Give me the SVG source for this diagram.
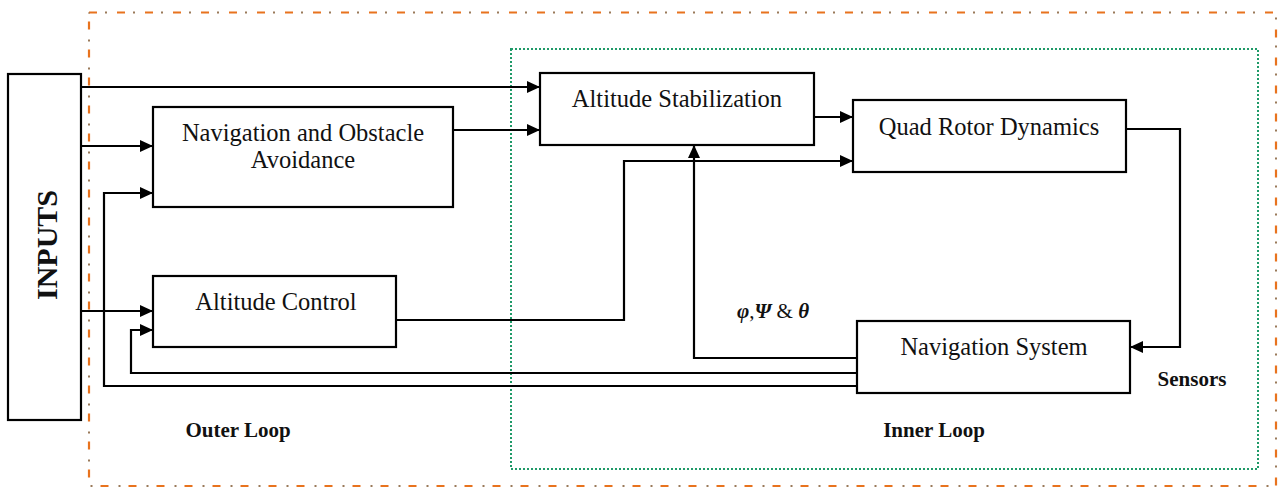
<svg xmlns="http://www.w3.org/2000/svg" width="1282" height="489" viewBox="0 0 1282 489">
<style>
.box{fill:#fff;stroke:#000;stroke-width:2.2}
.t{font-family:"Liberation Serif","Times New Roman",serif;font-size:24.5px;fill:#111;text-anchor:middle}
.b{font-family:"Liberation Serif","Times New Roman",serif;font-size:21px;font-weight:bold;fill:#111}
.c{fill:none;stroke:#000;stroke-width:2.2}
</style>
<defs>
<marker id="ah" markerUnits="userSpaceOnUse" markerWidth="13" markerHeight="12" refX="13" refY="6" orient="auto">
<path d="M0,0 L13,6 L0,12 z" fill="#000"/>
</marker>
</defs>
<rect width="1282" height="489" fill="#fff"/>
<g id="outer-loop">
<rect x="89" y="12.5" width="1187" height="473.5" fill="none" stroke="#E8731E" stroke-width="2.2" stroke-dasharray="8 20"/>
<rect x="89" y="12.5" width="1187" height="473.5" fill="none" stroke="#9A7A5A" stroke-width="2" stroke-dasharray="2 26" stroke-dashoffset="-16"/>
</g>
<g id="inner-loop">
<rect x="511" y="49" width="747" height="420" fill="none" stroke="#1F9A68" stroke-width="2" stroke-dasharray="2 2"/>
</g>
<g id="connectors">
<path class="c" d="M81 87 H540" marker-end="url(#ah)"/>
<path class="c" d="M81 146 H153" marker-end="url(#ah)"/>
<path class="c" d="M453 130 H540" marker-end="url(#ah)"/>
<path class="c" d="M814 117 H853" marker-end="url(#ah)"/>
<path class="c" d="M396 320 H624 V161 H853" marker-end="url(#ah)"/>
<path class="c" d="M1126 129 H1180 V347 H1130" marker-end="url(#ah)"/>
<path class="c" d="M857 358 H694 V145" marker-end="url(#ah)"/>
<path class="c" d="M857 373 H131 V330 H153" marker-end="url(#ah)"/>
<path class="c" d="M857 386 H104 V193 H153" marker-end="url(#ah)"/>
<path class="c" d="M81 311 H153" marker-end="url(#ah)"/>
</g>
<g id="inputs">
<rect class="box" x="8" y="74" width="73" height="346"/>
<text transform="translate(57,245) rotate(-90)" text-anchor="middle" font-family="Liberation Serif, serif" font-size="30" font-weight="bold" fill="#111">INPUTS</text>
</g>
<g id="nav-obstacle">
<rect class="box" x="153" y="107" width="300" height="100"/>
<text class="t" x="303" y="141">Navigation and Obstacle</text>
<text class="t" x="303" y="168">Avoidance</text>
</g>
<g id="altitude-control">
<rect class="box" x="153" y="276" width="243" height="71"/>
<text class="t" x="276" y="310">Altitude Control</text>
</g>
<g id="altitude-stabilization">
<rect class="box" x="540" y="73" width="274" height="72"/>
<text class="t" x="677" y="107">Altitude Stabilization</text>
</g>
<g id="quad-rotor">
<rect class="box" x="853" y="100" width="273" height="72"/>
<text class="t" x="989" y="135">Quad Rotor Dynamics</text>
</g>
<g id="navigation-system">
<rect class="box" x="857" y="321" width="273" height="72"/>
<text class="t" x="994" y="355">Navigation System</text>
</g>
<g id="labels">
<text class="b" x="238" y="437" text-anchor="middle">Outer Loop</text>
<text class="b" x="934" y="437" text-anchor="middle">Inner Loop</text>
<text class="b" x="1192" y="386" text-anchor="middle" font-size="20">Sensors</text>
<text x="737" y="318" font-family="Liberation Serif, serif" font-size="21" fill="#111"><tspan font-weight="bold" font-style="italic">φ</tspan><tspan>,</tspan><tspan font-weight="bold" font-style="italic">Ψ</tspan><tspan> &amp; </tspan><tspan font-weight="bold" font-style="italic">θ</tspan></text>
</g>
</svg>
